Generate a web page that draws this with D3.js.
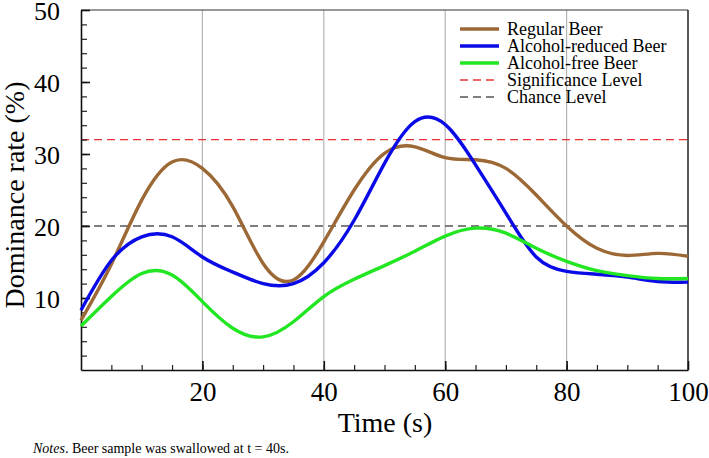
<!DOCTYPE html>
<html>
<head>
<meta charset="utf-8">
<script src="https://cdn.jsdelivr.net/npm/d3@7"></script>
<style>
  html, body { margin: 0; padding: 0; background: #fff; }
  svg { display: block; }
  text { font-family: "Liberation Serif", "Times New Roman", serif; fill: #000; }
</style>
</head>
<body>
<svg id="chart" width="709" height="458"></svg>
<script>
// ---- Data ----
const time = [0, 5, 10, 15, 20, 25, 30, 35, 40, 45, 50, 55, 60, 65, 70, 75, 80, 85, 90, 95, 100];
const regularBeer = [6.9, 14.7, 23.6, 28.9, 28.0, 22.7, 14.8, 12.5, 17.8, 25.0, 30.1, 31.0, 29.5, 29.2, 28.0, 24.3, 20.0, 16.9, 15.9, 16.2, 15.8];
const reducedBeer = [8.3, 15.2, 18.5, 18.5, 15.7, 13.6, 12.0, 12.0, 14.9, 20.8, 28.7, 34.5, 34.1, 28.5, 21.8, 15.7, 13.7, 13.3, 12.9, 12.3, 12.2];
const freeBeer    = [6.1, 10.2, 13.4, 13.2, 9.5, 5.8, 4.6, 6.7, 10.2, 12.6, 14.5, 16.5, 18.6, 19.7, 19.0, 16.9, 15.1, 13.8, 13.1, 12.7, 12.7];
const significanceLevel = 32;
const chanceLevel = 20;
const seriesNames = ["Regular Beer", "Alcohol-reduced Beer", "Alcohol-free Beer"];
const refNames = ["Significance Level", "Chance Level"];
const xTicks = [20, 40, 60, 80, 100];
const yTicks = [10, 20, 30, 40, 50];
const xTitle = "Time (s)";
const yTitle = "Dominance rate (%)";

// ---- Layout ----
const svg = d3.select("#chart");
const x = d3.scaleLinear().domain([0, 100]).range([81, 688]);
const y = d3.scaleLinear().domain([0, 50]).range([370, 10]);
const colors = ["#9b6836", "#0a0ae6", "#22e622"];
const refColors = ["#e63232", "#555555"];

// grid lines (vertical)
svg.append("g").selectAll("line").data([20, 40, 60, 80]).join("line")
  .attr("x1", d => x(d)).attr("x2", d => x(d))
  .attr("y1", y(50)).attr("y2", y(0))
  .attr("stroke", "#b4b4b4").attr("stroke-width", 1.2);

// reference lines
svg.append("g").selectAll("line").data([significanceLevel, chanceLevel]).join("line")
  .attr("x1", x(0)).attr("x2", x(100))
  .attr("y1", d => y(d)).attr("y2", d => y(d))
  .attr("stroke", (d, i) => refColors[i]).attr("stroke-width", 1.3)
  .attr("stroke-dasharray", "8,5");

// box (top and right)
svg.append("line").attr("x1", x(0)).attr("x2", x(100)).attr("y1", y(50)).attr("y2", y(50))
  .attr("stroke", "#333").attr("stroke-width", 1.2);
svg.append("line").attr("x1", x(100)).attr("x2", x(100)).attr("y1", y(50)).attr("y2", y(0))
  .attr("stroke", "#222").attr("stroke-width", 1.5);

// minor ticks
const xMinor = svg.append("g").attr("transform", `translate(0,${y(0)})`)
  .call(d3.axisBottom(x).tickValues(d3.range(5, 100, 5)).tickSize(-5).tickFormat(""));
const yMinor = svg.append("g").attr("transform", `translate(${x(0)},0)`)
  .call(d3.axisLeft(y).tickValues(d3.range(2, 50, 2)).tickSize(-6).tickFormat(""));
[xMinor, yMinor].forEach(g => {
  g.select(".domain").remove();
  g.selectAll("line").attr("stroke", "#222").attr("stroke-width", 1.2);
});

// major axes
const xAxis = svg.append("g").attr("transform", `translate(0,${y(0)})`)
  .call(d3.axisBottom(x).tickValues(xTicks).tickSize(-9).tickSizeOuter(0).tickPadding(22));
const yAxis = svg.append("g").attr("transform", `translate(${x(0)},0)`)
  .call(d3.axisLeft(y).tickValues(yTicks).tickSize(-9).tickSizeOuter(0).tickPadding(21));
[xAxis, yAxis].forEach(g => {
  g.select(".domain").attr("stroke", "#111").attr("stroke-width", 1.6);
  g.selectAll("line").attr("stroke", "#111").attr("stroke-width", 1.6);
  g.selectAll("text").attr("font-family", '"Liberation Serif", serif').attr("fill", "#000");
});
xAxis.selectAll("text").attr("font-size", 27).attr("dy", "0.71em").attr("y", 12);
yAxis.selectAll("text").attr("font-size", 26).attr("dy", "0.36em");

// curves
const allSeries = [regularBeer, reducedBeer, freeBeer];
const line = d3.line()
  .x((d, i) => x(time[i]))
  .y(d => y(d))
  .curve(d3.curveNatural);
svg.append("g").selectAll("path").data(allSeries).join("path")
  .attr("d", d => line(d))
  .attr("fill", "none")
  .attr("stroke", (d, i) => colors[i])
  .attr("stroke-width", 3.4)
  .attr("stroke-linejoin", "round");

// legend
const legendItems = [
  { name: seriesNames[0], color: colors[0], dash: null, w: 3.4 },
  { name: seriesNames[1], color: colors[1], dash: null, w: 3.4 },
  { name: seriesNames[2], color: colors[2], dash: null, w: 3.4 },
  { name: refNames[0], color: refColors[0], dash: "8,5", w: 1.3 },
  { name: refNames[1], color: refColors[1], dash: "8,5", w: 1.3 }
];
const lg = svg.append("g").attr("transform", "translate(460,29)");
const li = lg.selectAll("g").data(legendItems).join("g")
  .attr("transform", (d, i) => `translate(0,${i * 17})`);
li.append("line").attr("x1", 0).attr("x2", 39).attr("y1", 0).attr("y2", 0)
  .attr("stroke", d => d.color).attr("stroke-width", d => d.w)
  .attr("stroke-dasharray", d => d.dash);
li.append("text").attr("x", 47).attr("y", 0).attr("dy", "0.33em")
  .attr("font-size", 18).text(d => d.name);

// axis titles
svg.append("text").attr("x", 385).attr("y", 432).attr("text-anchor", "middle")
  .attr("font-size", 28).text(xTitle);
svg.append("text").attr("transform", "translate(24,195) rotate(-90)")
  .attr("text-anchor", "middle").attr("font-size", 28).text(yTitle);

// note
const note = svg.append("text").attr("x", 33).attr("y", 453).attr("font-size", 14);
note.append("tspan").attr("font-style", "italic").text("Notes");
note.append("tspan").text(". Beer sample was swallowed at t = 40s.");
</script>
</body>
</html>
